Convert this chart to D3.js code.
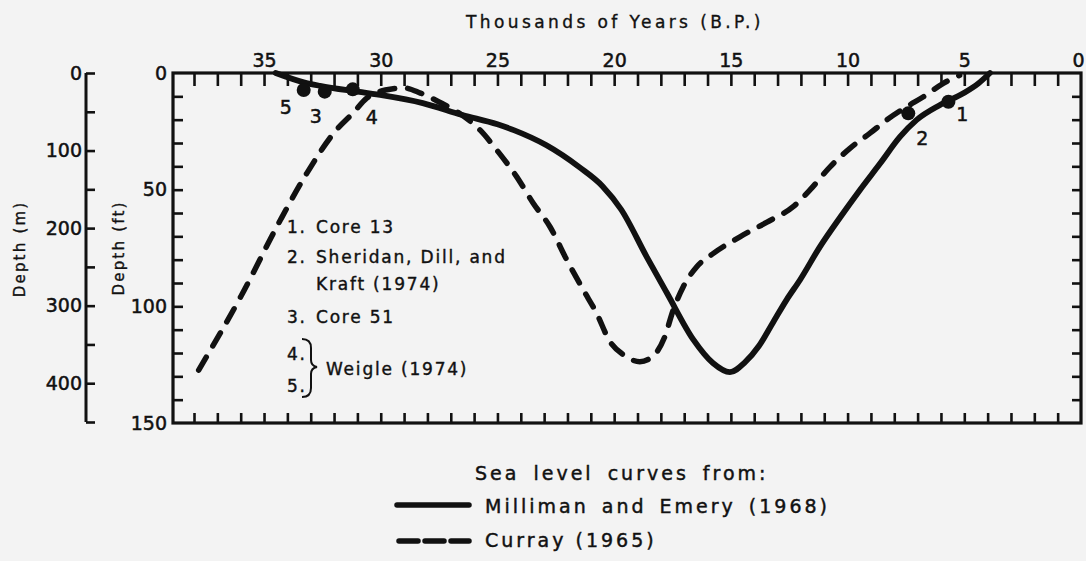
<!DOCTYPE html>
<html><head><meta charset="utf-8">
<script src="https://cdn.jsdelivr.net/npm/d3@7"></script>
<style>
html,body{margin:0;padding:0;background:#f3f3f3;}
svg{display:block;}
text{font-family:"DejaVu Sans",sans-serif;fill:#111;}
</style></head><body>
<svg id="chart" width="1086" height="561"></svg>
<script>
// ---- data ----
const yearTicksLabelled = [35, 30, 25, 20, 15, 10, 5, 0];
const depthFtTicksLabelled = [0, 50, 100, 150];
const depthMTicksLabelled = [0, 100, 200, 300, 400];

// Milliman and Emery (1968) – solid curve (thousand yrs B.P., depth)
const millimanYears = [34.5,33.3,32.6,31.0,29.9,28.2,26.5,25.0,24.3,22.9,21.5,20.5,19.7,18.6,17.74,16.6,15.77,15.04,14.4,13.8,13.2,12.6,12.04,11.18,10.3,9.47,8.6,7.75,7.04,6.04,5.04,4.4,3.9];
const millimanDepth = [0,4,5.5,8.0,9.6,12.9,18.0,22,24.5,31,40.3,48.5,58.5,78.9,94.3,114.4,124.3,128.2,124,117,107,97,88.7,74.4,61.6,50.1,38.7,27.3,20.1,13.7,8.7,4.5,0];

// Curray (1965) – dashed curve
const currayYears = [37.8,36.0,34.3,33.17,31.9,31.2,30.6,29.8,29.0,28.3,27.5,26.6,25.75,25.03,24.18,23.46,22.75,22.03,21.32,20.75,20.2,19.6,18.9,18.3,17.85,17.47,17.04,16.46,15.75,14.61,13.47,12.33,11.61,10.75,9.9,9.04,8.32,7.46,6.75,5.9,5.2];
const currayDepth = [127.3,95.9,63,43,24.4,17.3,10.8,7.3,6.4,8.6,12.4,17.5,24.4,33.0,44.4,55.9,65.9,80.1,93.0,103.0,114.8,120.8,123.7,121.0,113.5,101.6,91.6,83.0,77.3,70.2,64.0,57.3,50.1,40.2,32.3,25.8,20.1,14.4,10.2,4.4,1];

// dated samples
const sampleIds = ["5", "3", "4", "2", "1"];
const sampleYears = [33.3, 32.4, 31.2, 7.4, 5.68];
const sampleDepth = [7.3, 8.0, 7.0, 17.3, 12.3];

const sourceNotes = ["Core 13", "Sheridan, Dill, and", "Kraft (1974)", "Core 51"];

// ---- layout ----
const svg = d3.select("#chart");
const L = 173, R = 1081, T = 73, B = 423;
const x = d3.scaleLinear().domain([38.9, 0]).range([L, R]);
const y = d3.scaleLinear().domain([0, 150]).range([T, B]);
const yOuter = d3.scaleLinear().domain([0, 450]).range([T, B - 1]);
const ink = "#111";

function styleAxis(g){
  g.select(".domain").remove();
  g.selectAll(".tick line").attr("stroke", ink).attr("stroke-width", 2.6);
  g.selectAll(".tick text").attr("fill", ink).style("font-size","19px").style("font-family","DejaVu Sans").attr("stroke", ink).attr("stroke-width",0.5);
}

// frame
svg.append("rect").attr("x", L).attr("y", T).attr("width", R-L).attr("height", B-T)
  .attr("fill","none").attr("stroke", ink).attr("stroke-width", 3.2);

// top ticks (pointing down)
svg.append("g").attr("transform",`translate(0,${T})`)
  .call(d3.axisBottom(x).tickValues(d3.range(1,39)).tickSize(13).tickFormat(""))
  .call(styleAxis);
// bottom ticks (pointing up)
svg.append("g").attr("transform",`translate(0,${B})`)
  .call(d3.axisTop(x).tickValues(d3.range(1,39)).tickSize(10).tickFormat(""))
  .call(styleAxis);
// top labels
const topLab = svg.append("g").attr("transform",`translate(0,${T-2})`)
  .call(d3.axisTop(x).tickValues(yearTicksLabelled).tickSize(0).tickPadding(4).tickFormat(d3.format("d")))
  .call(styleAxis);
topLab.selectAll(".tick text").filter(d=>d===0).attr("text-anchor","end").attr("dx","3");

// inner left axis (0-150) ticks inward
svg.append("g").attr("transform",`translate(${L},0)`)
  .call(d3.axisRight(y).tickValues(d3.range(10,150,10)).tickSize(10).tickFormat(""))
  .call(styleAxis);
svg.append("g").attr("transform",`translate(${L-4},0)`)
  .call(d3.axisLeft(y).tickValues(depthFtTicksLabelled).tickSize(0).tickPadding(2))
  .call(styleAxis);
// right ticks inward
svg.append("g").attr("transform",`translate(${R},0)`)
  .call(d3.axisLeft(y).tickValues(d3.range(10,150,10)).tickSize(9).tickFormat(""))
  .call(styleAxis);

// outer axis (0-400)
const gOuter = svg.append("g").attr("transform",`translate(86,0)`);
gOuter.call(d3.axisRight(yOuter).tickValues(d3.range(0,451,50)).tickSize(9).tickFormat("")).call(styleAxis);
gOuter.append("line").attr("x1",0).attr("x2",0).attr("y1",yOuter(0)).attr("y2",yOuter(450)).attr("stroke",ink).attr("stroke-width",3);
svg.append("g").attr("transform",`translate(84,0)`)
  .call(d3.axisLeft(yOuter).tickValues(depthMTicksLabelled).tickSize(0).tickPadding(2))
  .call(styleAxis);

// axis titles
svg.append("text").attr("transform","translate(25,249) rotate(-90)").attr("text-anchor","middle")
  .style("font-size","15px").style("letter-spacing","2.2px").attr("stroke",ink).attr("stroke-width",0.35).text("Depth (m)");
svg.append("text").attr("transform","translate(124,248) rotate(-90)").attr("text-anchor","middle")
  .style("font-size","15px").style("letter-spacing","2.2px").attr("stroke",ink).attr("stroke-width",0.35).text("Depth (ft)");
svg.append("text").attr("x",615).attr("y",28).attr("text-anchor","middle")
  .style("font-size","17px").style("letter-spacing","3.4px").attr("stroke",ink).attr("stroke-width",0.35).text("Thousands of Years (B.P.)");

// curves
const line = d3.line().x(d=>x(d[0])).y(d=>y(d[1])).curve(d3.curveMonotoneX);
const milliman = millimanYears.map((v,i)=>[v, millimanDepth[i]]);
const curray = currayYears.map((v,i)=>[v, currayDepth[i]]);
svg.append("path").attr("d", line(curray)).attr("fill","none").attr("stroke",ink)
  .attr("stroke-width",5.5).attr("stroke-linecap","round").attr("stroke-dasharray","15,13");
svg.append("path").attr("d", line(milliman)).attr("fill","none").attr("stroke",ink)
  .attr("stroke-width",5.8).attr("stroke-linecap","round");

// samples
const labelOffsets = {"5":[-18,17],"3":[-9,24],"4":[19,28],"2":[14,25],"1":[14,12]};
sampleIds.forEach((id,i)=>{
  svg.append("circle").attr("cx",x(sampleYears[i])).attr("cy",y(sampleDepth[i])).attr("r",7).attr("fill",ink);
  const o = labelOffsets[id];
  svg.append("text").attr("x",x(sampleYears[i])+o[0]).attr("y",y(sampleDepth[i])+o[1]+7)
    .attr("text-anchor","middle").style("font-size","19px").attr("stroke",ink).attr("stroke-width",0.5).text(id);
});

// notes in plot
const noteStyle = t => t.style("font-size","17px").style("letter-spacing","1.8px").attr("stroke",ink).attr("stroke-width",0.4);
[["1.",233],["2.",263],["3.",323],["4.",360],["5.",392]].forEach(([n,yy])=>{
  svg.append("text").attr("x",287).attr("y",yy).call(noteStyle).text(n);
});
[[sourceNotes[0],233],[sourceNotes[1],263],[sourceNotes[2],290],[sourceNotes[3],323]].forEach(([t,yy])=>{
  svg.append("text").attr("x",316).attr("y",yy).call(noteStyle).text(t);
});
svg.append("text").attr("x",326).attr("y",375).call(noteStyle).text("Weigle (1974)");
svg.append("path").attr("d","M302,339 Q311,339 311,348 L311,360 Q311,366 317,367 Q311,368 311,374 L311,388 Q311,397 302,397")
  .attr("fill","none").attr("stroke",ink).attr("stroke-width",2);

// legend
const legStyle = t => t.style("font-size","19px").style("letter-spacing","3px").attr("stroke",ink).attr("stroke-width",0.45);
svg.append("text").attr("x",475).attr("y",480).call(legStyle).style("word-spacing","5px").text("Sea  level curves  from:");
svg.append("line").attr("x1",397).attr("x2",469).attr("y1",505).attr("y2",505).attr("stroke",ink).attr("stroke-width",5.5).attr("stroke-linecap","round");
svg.append("text").attr("x",485).attr("y",513).call(legStyle).style("word-spacing","4px").text("Milliman  and  Emery  (1968)");
svg.append("line").attr("x1",399).attr("x2",469).attr("y1",541).attr("y2",541).attr("stroke",ink).attr("stroke-width",5.5).attr("stroke-linecap","round").attr("stroke-dasharray","19,7");
svg.append("text").attr("x",485).attr("y",547).call(legStyle).text("Curray (1965)");
</script>
</body></html>
